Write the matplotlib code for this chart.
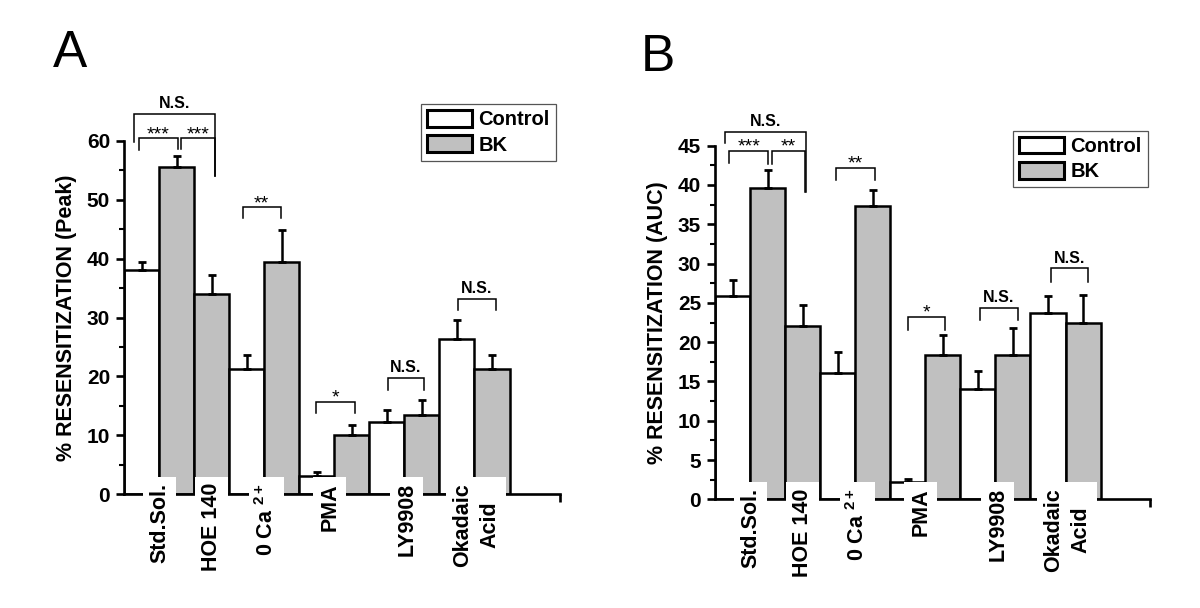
import matplotlib
matplotlib.use('Agg')
import matplotlib.pyplot as plt
from matplotlib.patches import Patch
from matplotlib.transforms import offset_copy
import numpy as np

plt.rcParams['font.family'] = ['Liberation Sans', 'DejaVu Sans']
plt.rcParams['mathtext.fontset'] = 'custom'
plt.rcParams['mathtext.rm'] = 'Liberation Sans:bold'
plt.rcParams['mathtext.it'] = 'Liberation Sans:bold'
plt.rcParams['mathtext.bf'] = 'Liberation Sans:bold'

# данные
groups = ['Std.Sol.', 'HOE 140', r'0 Ca $^{2+}$', 'PMA', 'LY9908', 'Okadaic\nAcid']
series = ['Control', 'BK']

# панель A (Peak)
peak_ctrl = [38.0, None, 21.2, 3.0, 12.2, 26.4]
peak_ctrl_err = [1.4, None, 2.4, 0.7, 2.1, 3.2]
peak_bk = [55.5, 34.0, 39.4, 10.0, 13.5, 21.2]
peak_bk_err = [1.9, 3.2, 5.4, 1.8, 2.5, 2.4]

# панель B (AUC)
auc_ctrl = [25.9, None, 16.1, 2.25, 14.0, 23.7]
auc_ctrl_err = [2.0, None, 2.6, 0.35, 2.3, 2.2]
auc_bk = [39.6, 22.1, 37.3, 18.4, 18.4, 22.5]
auc_bk_err = [2.3, 2.6, 2.1, 2.5, 3.4, 3.5]

# скобки значимости: (от, до, высота, нога слева, нога справа, текст)
peak_sig = [(-0.22, 2.1, 64.6, 59.9, 54.0, 'N.S.'),
            (-0.06, 1.03, 60.45, 58.4, 58.6, '***'),
            (1.12, 2.1, 60.45, 58.6, 54.0, '***'),
            (2.89, 3.97, 48.7, 46.9, 46.9, '**'),
            (4.99, 6.08, 15.7, 13.7, 13.7, '*'),
            (7.02, 8.07, 19.7, 17.7, 17.7, 'N.S.'),
            (9.03, 10.11, 33.15, 31.3, 31.3, 'N.S.')]
auc_sig = [(-0.21, 2.09, 46.8, 45.3, 39.1, 'N.S.'),
           (-0.09, 1.02, 44.35, 42.8, 42.7, '***'),
           (1.14, 2.06, 44.35, 42.7, 39.1, '**'),
           (2.95, 4.06, 42.2, 40.6, 40.6, '**'),
           (5.0, 6.06, 23.2, 21.6, 21.6, '*'),
           (7.06, 8.14, 24.4, 22.8, 22.8, 'N.S.'),
           (9.08, 10.14, 29.4, 27.7, 27.7, 'N.S.')]

label_pos = [0.52, 2.0, 3.57, 5.37, 7.57, 9.55]

GREY = '#c0c0c0'


def draw_panel(ax, ctrl, ctrl_err, bk, bk_err, sig, ylabel, ymax, major, xmax):
    pos = 0
    xs, vals, errs, cols = [], [], [], []
    for c, ce, b, be in zip(ctrl, ctrl_err, bk, bk_err):
        if c is not None:
            xs.append(pos); vals.append(c); errs.append(ce); cols.append('white')
            pos += 1
        xs.append(pos); vals.append(b); errs.append(be); cols.append(GREY)
        pos += 1

    ax.bar(xs, vals, width=1.0, color=cols, edgecolor='black', linewidth=1.8, zorder=2)
    ax.errorbar(xs, vals, yerr=[np.zeros(len(errs)), errs], fmt='none', ecolor='black',
                elinewidth=1.8, capsize=3.2, capthick=2.0, zorder=3)

    ax.set_xlim(-0.5, xmax)
    ax.set_ylim(0, ymax)
    ax.spines['top'].set_visible(False)
    ax.spines['right'].set_visible(False)
    ax.spines['left'].set_linewidth(1.9)
    ax.spines['bottom'].set_linewidth(1.9)
    ax.spines['left'].set_zorder(4)
    ax.spines['bottom'].set_zorder(4)

    ax.set_yticks(np.arange(0, ymax + 0.1, major))
    ax.set_yticks(np.arange(0, ymax + 0.1, major / 2), minor=True)
    ax.set_xticks([xmax])
    ax.set_xticklabels([''])
    ax.tick_params(axis='y', which='major', length=6, width=1.9, labelsize=15, pad=4)
    ax.tick_params(axis='y', which='minor', length=3.5, width=1.5)
    ax.tick_params(axis='x', which='major', length=6, width=1.9)
    for t in ax.get_yticklabels():
        t.set_fontweight('bold')
    ax.set_ylabel(ylabel, fontsize=15.5, fontweight='bold', labelpad=7)

    # подписи категорий с белой подложкой
    tr = offset_copy(ax.transData, fig=ax.figure, x=0, y=11, units='dots')
    for x, g in zip(label_pos, groups):
        ax.text(x, 0, g, transform=tr, rotation=90, ha='center', va='top',
                multialignment='center', fontsize=15.5, fontweight='bold', zorder=6,
                linespacing=1.35, clip_on=False,
                bbox=dict(boxstyle='square,pad=0.28', facecolor='white', edgecolor='none'))

    # скобки
    for x1, x2, h, l1, l2, txt in sig:
        ax.plot([x1, x1, x2, x2], [l1, h, h, l2], color='black', lw=1.1,
                zorder=5, clip_on=False, solid_joinstyle='miter')
        if txt == 'N.S.':
            ax.annotate(txt, ((x1 + x2) / 2, h), xytext=(0, 2), textcoords='offset points',
                        ha='center', va='bottom', fontsize=11.5, fontweight='bold',
                        annotation_clip=False)
        else:
            ax.annotate(txt, ((x1 + x2) / 2, h), xytext=(0, -3.5), textcoords='offset points',
                        ha='center', va='bottom', fontsize=14, annotation_clip=False)

    handles = [Patch(facecolor='white', edgecolor='black', linewidth=2.2),
               Patch(facecolor=GREY, edgecolor='black', linewidth=2.2)]
    return handles


fig = plt.figure(figsize=(12, 6.08), dpi=100)

axA = fig.add_axes([124 / 1200, 1 - 494 / 608, 436 / 1200, 353 / 608])
hA = draw_panel(axA, peak_ctrl, peak_ctrl_err, peak_bk, peak_bk_err, peak_sig,
                '% RESENSITIZATION (Peak)', 60, 10, 11.94)

axB = fig.add_axes([715 / 1200, 1 - 499.3 / 608, 435 / 1200, 353.6 / 608])
hB = draw_panel(axB, auc_ctrl, auc_ctrl_err, auc_bk, auc_bk_err, auc_sig,
                '% RESENSITIZATION (AUC)', 45, 5, 11.91)

legA = fig.legend(hA, series, loc='upper left', bbox_to_anchor=(421 / 1200, 1 - 104 / 608),
                  bbox_transform=fig.transFigure, prop={'weight': 'bold', 'size': 14.5},
                  handlelength=2.25, handleheight=0.9, handletextpad=0.3, labelspacing=0.3,
                  borderpad=0.3, borderaxespad=0, fancybox=False, edgecolor='#555555',
                  framealpha=1)
legA.get_frame().set_linewidth(0.9)
legB = fig.legend(hB, series, loc='upper left', bbox_to_anchor=(1013 / 1200, 1 - 130.7 / 608),
                  bbox_transform=fig.transFigure, prop={'weight': 'bold', 'size': 14.5},
                  handlelength=2.25, handleheight=0.9, handletextpad=0.3, labelspacing=0.3,
                  borderpad=0.3, borderaxespad=0, fancybox=False, edgecolor='#555555',
                  framealpha=1)
legB.get_frame().set_linewidth(0.9)

fig.text(53 / 1200, 1 - 67 / 608, 'A', fontsize=37, ha='left', va='baseline')
fig.text(641 / 1200, 1 - 71 / 608, 'B', fontsize=37, ha='left', va='baseline')

fig.savefig('out.png', dpi=100)
